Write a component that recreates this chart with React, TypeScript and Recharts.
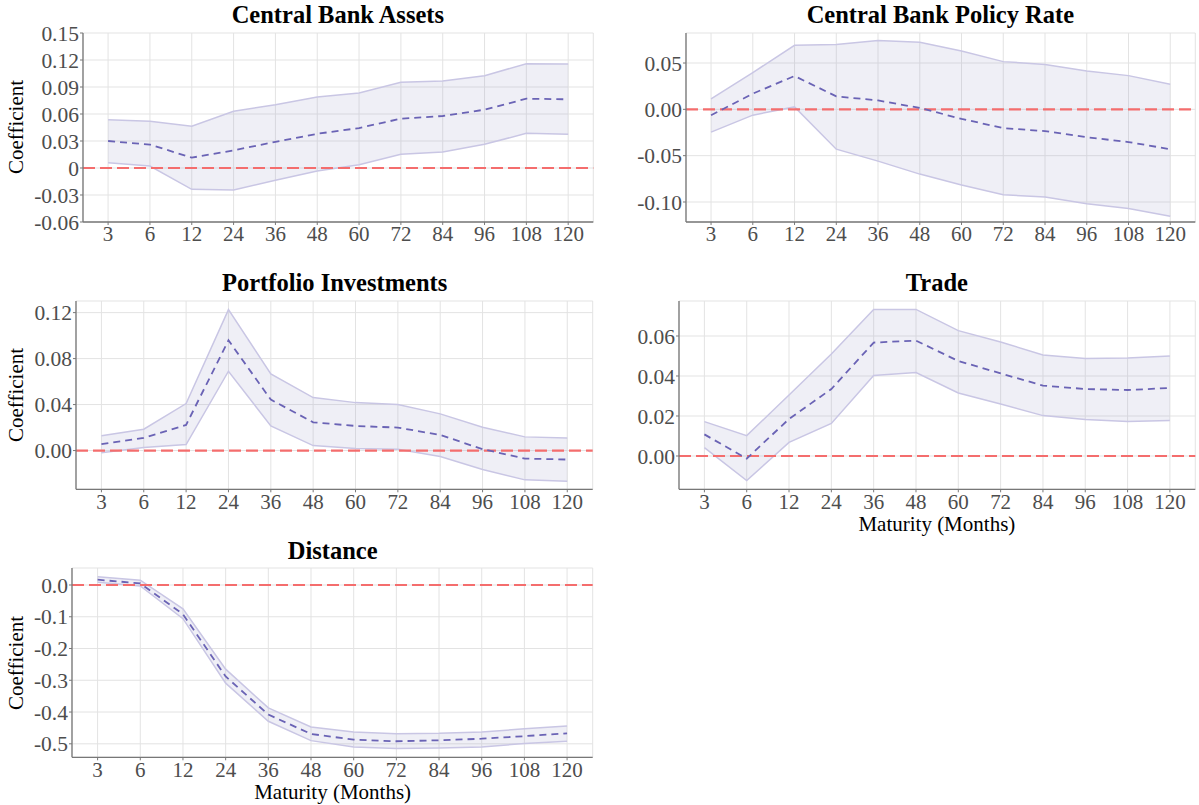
import React from 'react';
import { ComposedChart, Area, Line, XAxis, YAxis, CartesianGrid, ReferenceLine } from 'recharts';

// maturities (months) shown on every x axis
const maturities = ['3', '6', '12', '24', '36', '48', '60', '72', '84', '96', '108', '120'];

// Central Bank Assets
const assetsMean = [0.030, 0.026, 0.0115, 0.0196, 0.029, 0.038, 0.0444, 0.0548, 0.0578, 0.0648, 0.077, 0.0763];
const assetsLower = [0.0059, 0.0022, -0.0237, -0.0244, -0.0137, -0.0033, 0.0037, 0.0152, 0.0178, 0.0263, 0.0385, 0.0374];
const assetsUpper = [0.0537, 0.0519, 0.0463, 0.063, 0.0704, 0.0789, 0.0833, 0.0952, 0.0967, 0.1026, 0.1159, 0.1156];
const assetsTicks = [-0.06, -0.03, 0, 0.03, 0.06, 0.09, 0.12, 0.15];
const assetsTickLabels = ['-0.06', '-0.03', '0', '0.03', '0.06', '0.09', '0.12', '0.15'];

// Central Bank Policy Rate
const policyMean = [-0.0063, 0.0169, 0.036, 0.014, 0.0096, 0.0015, -0.0103, -0.0202, -0.0235, -0.0301, -0.0353, -0.043];
const policyLower = [-0.0246, -0.0063, 0.0026, -0.043, -0.0559, -0.0699, -0.0816, -0.0923, -0.0945, -0.1018, -0.107, -0.1154];
const policyUpper = [0.0114, 0.0397, 0.0691, 0.0699, 0.0743, 0.0724, 0.0629, 0.0515, 0.0485, 0.0415, 0.0364, 0.0272];
const policyTicks = [-0.1, -0.05, 0, 0.05];
const policyTickLabels = ['-0.10', '-0.05', '0.00', '0.05'];

// Portfolio Investments
const portfolioMean = [0.0055, 0.011, 0.0223, 0.0959, 0.0443, 0.0246, 0.0214, 0.020, 0.0136, 0.0012, -0.007, -0.0078];
const portfolioLower = [-0.002, 0.0026, 0.0052, 0.069, 0.0214, 0.0043, 0.0017, 0.0012, -0.0052, -0.0165, -0.0255, -0.0267];
const portfolioUpper = [0.0128, 0.0186, 0.0409, 0.1226, 0.0667, 0.0461, 0.0417, 0.040, 0.0319, 0.0203, 0.0119, 0.011];
const portfolioTicks = [0, 0.04, 0.08, 0.12];
const portfolioTickLabels = ['0.00', '0.04', '0.08', '0.12'];

// Trade
const tradeMean = [0.0108, -0.0013, 0.0185, 0.0335, 0.0567, 0.0577, 0.0475, 0.0413, 0.0352, 0.0335, 0.033, 0.034];
const tradeLower = [0.0042, -0.0123, 0.0068, 0.0163, 0.0403, 0.0417, 0.0315, 0.026, 0.0202, 0.0182, 0.0173, 0.0178];
const tradeUpper = [0.0172, 0.0102, 0.0305, 0.051, 0.0732, 0.0733, 0.0627, 0.057, 0.0505, 0.0487, 0.049, 0.050];
const tradeTicks = [0, 0.02, 0.04, 0.06];
const tradeTickLabels = ['0.00', '0.02', '0.04', '0.06'];

// Distance
const distanceMean = [0.0167, 0.005, -0.092, -0.288, -0.408, -0.469, -0.487, -0.492, -0.489, -0.484, -0.476, -0.467];
const distanceLower = [0.009, -0.003, -0.106, -0.309, -0.429, -0.49, -0.51, -0.515, -0.513, -0.51, -0.499, -0.492];
const distanceUpper = [0.026, 0.015, -0.075, -0.265, -0.387, -0.447, -0.463, -0.468, -0.467, -0.463, -0.453, -0.444];
const distanceTicks = [-0.5, -0.4, -0.3, -0.2, -0.1, 0];
const distanceTickLabels = ['-0.5', '-0.4', '-0.3', '-0.2', '-0.1', '0.0'];

const FONT = '"Liberation Serif", "Times New Roman", serif';

const buildRows = (mean: number[], lower: number[], upper: number[]) =>
  maturities.map((m, i) => ({ m, mean: mean[i], band: [lower[i], upper[i]] }));

interface Box { x0: number; x1: number; y0: number; y1: number }

interface PanelProps {
  title: string;
  rows: { m: string; mean: number; band: number[] }[];
  ticks: number[];
  tickLabels: string[];
  domain: [number, number];
  box: Box;
  yLabel?: boolean;
  xLabel?: boolean;
}

function Panel({ title, rows, ticks, tickLabels, domain, box, yLabel, xLabel }: PanelProps) {
  const { x0, x1, y0, y1 } = box;
  const w = x1 - x0;
  const h = y1 - y0;
  // ggplot-style discrete expansion: 0.6 of a category step on each side
  const pad = (0.6 * w) / 12.2;
  const cx = (x0 + x1) / 2;

  return (
    <>
      <div
        style={{
          position: 'absolute', left: cx - 250, top: y0 - 17.5 - 15, width: 500, height: 30,
          lineHeight: '30px', textAlign: 'center', fontFamily: FONT, fontWeight: 'bold',
          fontSize: 24.5, color: '#000',
        }}
      >
        {title}
      </div>
      {yLabel && (
        <div
          style={{
            position: 'absolute', left: 16, top: (y0 + y1) / 2, width: 200, height: 24,
            lineHeight: '24px', textAlign: 'center', fontFamily: FONT, fontSize: 21, color: '#000',
            transform: 'translate(-50%, -50%) rotate(-90deg)',
          }}
        >
          Coefficient
        </div>
      )}
      {xLabel && (
        <div
          style={{
            position: 'absolute', left: cx - 150, top: y1 + 35 - 10, width: 300, height: 20,
            lineHeight: '20px', textAlign: 'center', fontFamily: FONT, fontSize: 21, color: '#000',
          }}
        >
          Maturity (Months)
        </div>
      )}
      <div style={{ position: 'absolute', left: x0 - 70, top: y0 - 10 }}>
        <ComposedChart
          width={w + 75}
          height={h + 45}
          data={rows}
          margin={{ top: 10, right: 5, bottom: 5, left: 10 }}
        >
          <CartesianGrid stroke="#e3e3e3" strokeWidth={1} />
          <XAxis
            dataKey="m"
            type="category"
            padding={{ left: pad, right: pad }}
            height={30}
            axisLine={{ stroke: '#777', strokeWidth: 1.3 }}
            tickLine={{ stroke: '#777' }}
            tickSize={3}
            tickMargin={1.5}
            interval={0}
            tick={{ fontFamily: FONT, fontSize: 21, fill: '#4d4d4d' }}
          />
          <YAxis
            type="number"
            domain={domain}
            ticks={ticks}
            allowDataOverflow
            width={60}
            axisLine={{ stroke: '#777', strokeWidth: 1.3 }}
            tickLine={{ stroke: '#777' }}
            tickSize={3}
            tickMargin={1}
            interval={0}
            tickFormatter={(v: number) => tickLabels[ticks.indexOf(v)] ?? String(v)}
            tick={{ fontFamily: FONT, fontSize: 21.5, fill: '#4d4d4d' }}
          />
          <Area
            dataKey="band"
            type="linear"
            stroke="#c9c6e4"
            strokeWidth={1.5}
            fill="#9e9ac8"
            fillOpacity={0.16}
            isAnimationActive={false}
            dot={false}
            activeDot={false}
          />
          <ReferenceLine y={0} stroke="#f46d6d" strokeWidth={2.2} strokeDasharray="12 5" />
          <Line
            dataKey="mean"
            type="linear"
            stroke="#6a63b5"
            strokeWidth={1.8}
            strokeDasharray="7 5"
            dot={false}
            activeDot={false}
            isAnimationActive={false}
          />
        </ComposedChart>
      </div>
    </>
  );
}

export default function App() {
  return (
    <div style={{ position: 'absolute', left: 0, top: 0, width: 1199, height: 805, background: '#fff' }}>
      <Panel
        title="Central Bank Assets"
        rows={buildRows(assetsMean, assetsLower, assetsUpper)}
        ticks={assetsTicks}
        tickLabels={assetsTickLabels}
        domain={[-0.06, 0.15]}
        box={{ x0: 82.7, x1: 593, y0: 32.7, y1: 221.7 }}
        yLabel
      />
      <Panel
        title="Central Bank Policy Rate"
        rows={buildRows(policyMean, policyLower, policyUpper)}
        ticks={policyTicks}
        tickLabels={policyTickLabels}
        domain={[-0.1216, 0.0824]}
        box={{ x0: 685.7, x1: 1195, y0: 32.7, y1: 221.7 }}
      />
      <Panel
        title="Portfolio Investments"
        rows={buildRows(portfolioMean, portfolioLower, portfolioUpper)}
        ticks={portfolioTicks}
        tickLabels={portfolioTickLabels}
        domain={[-0.0337, 0.1301]}
        box={{ x0: 76.3, x1: 593, y0: 300.7, y1: 489 }}
        yLabel
      />
      <Panel
        title="Trade"
        rows={buildRows(tradeMean, tradeLower, tradeUpper)}
        ticks={tradeTicks}
        tickLabels={tradeTickLabels}
        domain={[-0.01665, 0.0775]}
        box={{ x0: 678.7, x1: 1195, y0: 300.7, y1: 489 }}
        xLabel
      />
      <Panel
        title="Distance"
        rows={buildRows(distanceMean, distanceLower, distanceUpper)}
        ticks={distanceTicks}
        tickLabels={distanceTickLabels}
        domain={[-0.5425, 0.0535]}
        box={{ x0: 72.3, x1: 593, y0: 568, y1: 757.3 }}
        yLabel
        xLabel
      />
    </div>
  );
}
